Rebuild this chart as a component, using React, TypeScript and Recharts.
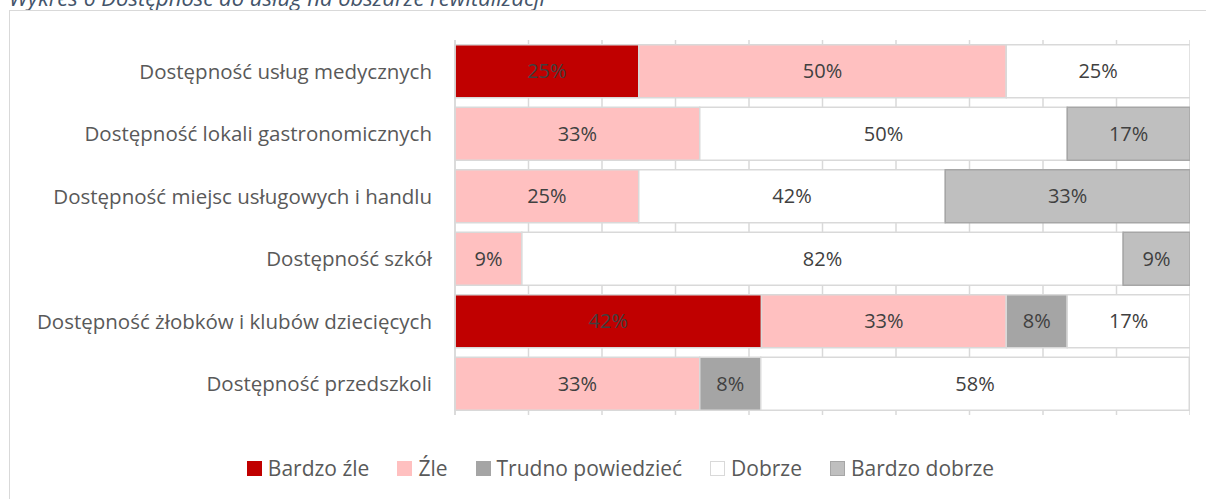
import { BarChart, Bar, XAxis, YAxis, CartesianGrid, LabelList, Legend } from 'recharts'

const categories = [
  'Dostępność usług medycznych',
  'Dostępność lokali gastronomicznych',
  'Dostępność miejsc usługowych i handlu',
  'Dostępność szkół',
  'Dostępność żłobków i klubów dziecięcych',
  'Dostępność przedszkoli',
]

const bardzoZle = [25, 0, 0, 0, 41.7, 0]
const zle = [50, 33.3, 25, 9.1, 33.3, 33.3]
const trudno = [0, 0, 0, 0, 8.3, 8.3]
const dobrze = [25, 50, 41.7, 81.8, 16.7, 58.3]
const bardzoDobrze = [0, 16.7, 33.3, 9.1, 0, 0]

const xTicks = [0, 10, 20, 30, 40, 50, 60, 70, 80, 90, 100]

const SERIES = [
  { key: 'bardzoZle', name: 'Bardzo źle', fill: '#c00000', stroke: '#c00000' },
  { key: 'zle', name: 'Źle', fill: '#ffc0c0', stroke: '#ffc0c0' },
  { key: 'trudno', name: 'Trudno powiedzieć', fill: '#a5a5a5', stroke: '#a5a5a5' },
  { key: 'dobrze', name: 'Dobrze', fill: '#ffffff', stroke: '#d9d9d9' },
  { key: 'bardzoDobrze', name: 'Bardzo dobrze', fill: '#bfbfbf', stroke: '#a6a6a6' },
]

const nz = (v: number) => (v === 0 ? null : v)

const chartData = categories.map((category, i) => ({
  category,
  bardzoZle: nz(bardzoZle[i]),
  zle: nz(zle[i]),
  trudno: nz(trudno[i]),
  dobrze: nz(dobrze[i]),
  bardzoDobrze: nz(bardzoDobrze[i]),
}))

const FONT = '"Open Sans", sans-serif'

function LegendContent() {
  return (
    <div
      style={{
        display: 'flex',
        justifyContent: 'center',
        gap: 28,
        fontFamily: FONT,
        fontSize: 21,
        lineHeight: '24px',
        color: '#595959',
      }}
    >
      {SERIES.map((s) => (
        <div key={s.key} style={{ display: 'flex', alignItems: 'center' }}>
          <span
            style={{
              display: 'inline-block',
              width: 13,
              height: 13,
              background: s.fill,
              border: `1px solid ${s.stroke}`,
              marginRight: 6,
            }}
          />
          {s.name}
        </div>
      ))}
    </div>
  )
}

export default function App() {
  return (
    <div
      style={{
        position: 'absolute',
        left: 0,
        top: 0,
        width: 1206,
        height: 499,
        overflow: 'hidden',
        background: '#fff',
      }}
    >
      <div
        style={{
          position: 'absolute',
          left: 9,
          top: -14,
          fontFamily: FONT,
          fontStyle: 'italic',
          fontSize: 22,
          lineHeight: '22px',
          color: '#44546a',
          whiteSpace: 'nowrap',
        }}
      >
        Wykres 6 Dostępność do usług na obszarze rewitalizacji
      </div>
      <div
        style={{
          position: 'absolute',
          left: 9,
          top: 10,
          width: 1220,
          height: 520,
          border: '1px solid #d9d9d9',
        }}
      />
      <div style={{ position: 'absolute', left: 0, top: 0 }}>
        <BarChart
          width={1190}
          height={499}
          data={chartData}
          layout="vertical"
          barCategoryGap="7.5%"
          margin={{ top: 40, right: 0, left: 0, bottom: 60 }}
        >
          <CartesianGrid horizontal={false} stroke="#d9d9d9" strokeWidth={1.5} />
          <XAxis type="number" domain={[0, 100]} ticks={xTicks} hide />
          <YAxis
            dataKey="category"
            type="category"
            width={455}
            tickLine={false}
            axisLine={{ stroke: '#d9d9d9', strokeWidth: 1.5 }}
            tickSize={0}
            tickMargin={23}
            tick={{ fontSize: 20.5, fill: '#595959', fontFamily: FONT }}
          />
          <Legend
            verticalAlign="bottom"
            height={24}
            wrapperStyle={{ left: 0, width: 1241, bottom: 19 }}
            content={() => <LegendContent />}
          />
          {SERIES.map((s) => (
            <Bar
              key={s.key}
              dataKey={s.key}
              name={s.name}
              stackId="a"
              fill={s.fill}
              stroke={s.key === 'bardzoDobrze' ? s.stroke : '#d9d9d9'}
              strokeWidth={1.5}
              isAnimationActive={false}
            >
              <LabelList
                dataKey={s.key}
                position="center"
                fill="#404040"
                fontSize={20}
                fontFamily={FONT}
                formatter={(v: any) => (v == null ? '' : `${Math.round(v)}%`)}
              />
            </Bar>
          ))}
        </BarChart>
      </div>
    </div>
  )
}
